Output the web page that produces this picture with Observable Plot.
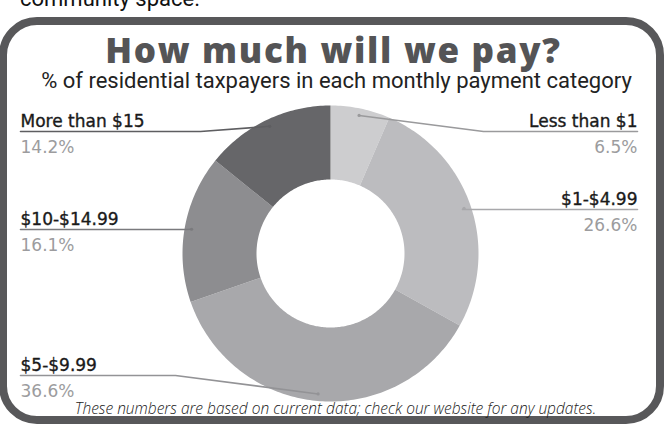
<!DOCTYPE html>
<html>
<head>
<meta charset="utf-8">
<script src="https://cdn.jsdelivr.net/npm/d3@7"></script>
<script src="https://cdn.jsdelivr.net/npm/@observablehq/plot@0.6"></script>
<style>
  html, body { margin: 0; padding: 0; background: #fff; }
  #wrap { position: relative; width: 667px; height: 424px; overflow: hidden; background: #fff; }
  #frame { position: absolute; left: -1px; top: 17px; width: 665px; height: 407px; box-sizing: border-box;
           border: 8px solid #58585a; border-radius: 38px; }
  .t { position: absolute; left: 0; width: 667px; white-space: nowrap; margin: 0; }
  #top { left: 20px; top: -12px; font: 400 22px/22px Roboto, sans-serif; color: #111; width: auto; }
  #title { left: 0px; top: 35px; text-align: center; font: 800 35px/30px "Open Sans", sans-serif; color: #545456; letter-spacing: 1.7px; }
  #subtitle { left: 3px; top: 70px; text-align: center; font: 400 22px/22px Roboto, sans-serif; color: #222; }
  #note { left: 2px; top: 401px; text-align: center; font: italic 300 15.5px/15px "Open Sans", sans-serif; color: #222; }
  #chart { position: absolute; left: 0; top: 0; }
</style>
</head>
<body>
<div id="wrap">
  <div class="t" id="top">community space.</div>
  <div id="frame"></div>
  <div class="t" id="title">How much will we pay?</div>
  <div class="t" id="subtitle">% of residential taxpayers in each monthly payment category</div>
  <div id="chart"></div>
  <div class="t" id="note">These numbers are based on current data; check our website for any updates.</div>
</div>
<script>
// ---- data ----
const categories = ["Less than $1", "$1-$4.99", "$5-$9.99", "$10-$14.99", "More than $15"];
const shares = [6.5, 26.6, 36.6, 16.1, 14.2];
const pctLabels = ["6.5%", "26.6%", "36.6%", "16.1%", "14.2%"];

// ---- styles / layout ----
const sliceColors = ["#cdcdcf", "#bcbcbf", "#a8a8ab", "#8d8d90", "#666669"];
const lineColors = ["#9a9a9c", "#a8a8ab", "#939396", "#7a7a7d", "#5e5e61"];
const CX = 330, CY = 253, R_OUT = 148, R_IN = 74, ANCHOR_R = 141;
const labelLayout = [
  {side: "right", x: 637, lineY: 131, elbowX: 483},
  {side: "right", x: 637, lineY: 209, elbowX: 462},
  {side: "left",  x: 20,  lineY: 375, elbowX: 175},
  {side: "left",  x: 20,  lineY: 229, elbowX: 186},
  {side: "left",  x: 20,  lineY: 131, elbowX: 200}
];

const pie = d3.pie().sort(null).value(d => d.share).startAngle(0).endAngle(2 * Math.PI);
const rows = categories.map((c, i) => ({cat: c, share: shares[i], pct: pctLabels[i], layout: labelLayout[i], color: sliceColors[i], lineColor: lineColors[i]}));
const arcs = pie(rows);

const polar = (a, r) => [CX + r * Math.sin(a), CY - r * Math.cos(a)];

// slice polygons (outer arc forward, inner arc back)
const slicePts = [];
for (const a of arcs) {
  const n = Math.max(4, Math.ceil((a.endAngle - a.startAngle) / (Math.PI / 180)));
  const pts = [];
  for (let k = 0; k <= n; k++) pts.push(polar(a.startAngle + (a.endAngle - a.startAngle) * k / n, R_OUT));
  for (let k = n; k >= 0; k--) pts.push(polar(a.startAngle + (a.endAngle - a.startAngle) * k / n, R_IN));
  for (const [x, y] of pts) slicePts.push({cat: a.data.cat, x, y});
}

const anchors = arcs.map(a => {
  const [x, y] = polar((a.startAngle + a.endAngle) / 2, ANCHOR_R);
  return {...a.data, ax: x, ay: y};
});

const leaderMarks = anchors.map(d => {
  const L = d.layout;
  const pts = [[d.ax, d.ay], [L.elbowX, L.lineY], [L.x, L.lineY]];
  return Plot.line(pts, {x: p => p[0], y: p => p[1], stroke: d.lineColor, strokeWidth: 1.6, curve: "linear"});
});

const labelMarks = ["left", "right"].flatMap(side => {
  const ds = anchors.filter(d => d.layout.side === side);
  const anchor = side === "left" ? "start" : "end";
  return [
    Plot.text(ds, {x: d => d.layout.x, y: d => d.layout.lineY - 5, text: "cat", textAnchor: anchor, lineAnchor: "bottom",
      fontFamily: "DejaVu Sans", fontSize: 17, fill: "#1a1a1a", stroke: "#1a1a1a", strokeWidth: 0.35}),
    Plot.text(ds, {x: d => d.layout.x, y: d => d.layout.lineY + 21.5, text: "pct", textAnchor: anchor, lineAnchor: "bottom",
      fontFamily: "DejaVu Sans", fontSize: 17, fill: "#9c9c9e"})
  ];
});

const chart = Plot.plot({
  width: 667, height: 424,
  margin: 0,
  x: {domain: [0, 667], range: [0, 667], axis: null},
  y: {domain: [0, 424], range: [0, 424], axis: null},
  color: {domain: categories, range: sliceColors},
  style: {background: "transparent", overflow: "visible"},
  marks: [
    Plot.line(slicePts, {x: "x", y: "y", z: "cat", fill: "cat", stroke: "none", curve: "linear"}),
    ...leaderMarks,
    Plot.dot(anchors, {x: "ax", y: "ay", r: 1.6, fill: d => d.lineColor, stroke: "none"}),
    ...labelMarks
  ]
});
document.getElementById("chart").appendChild(chart);
</script>
</body>
</html>
